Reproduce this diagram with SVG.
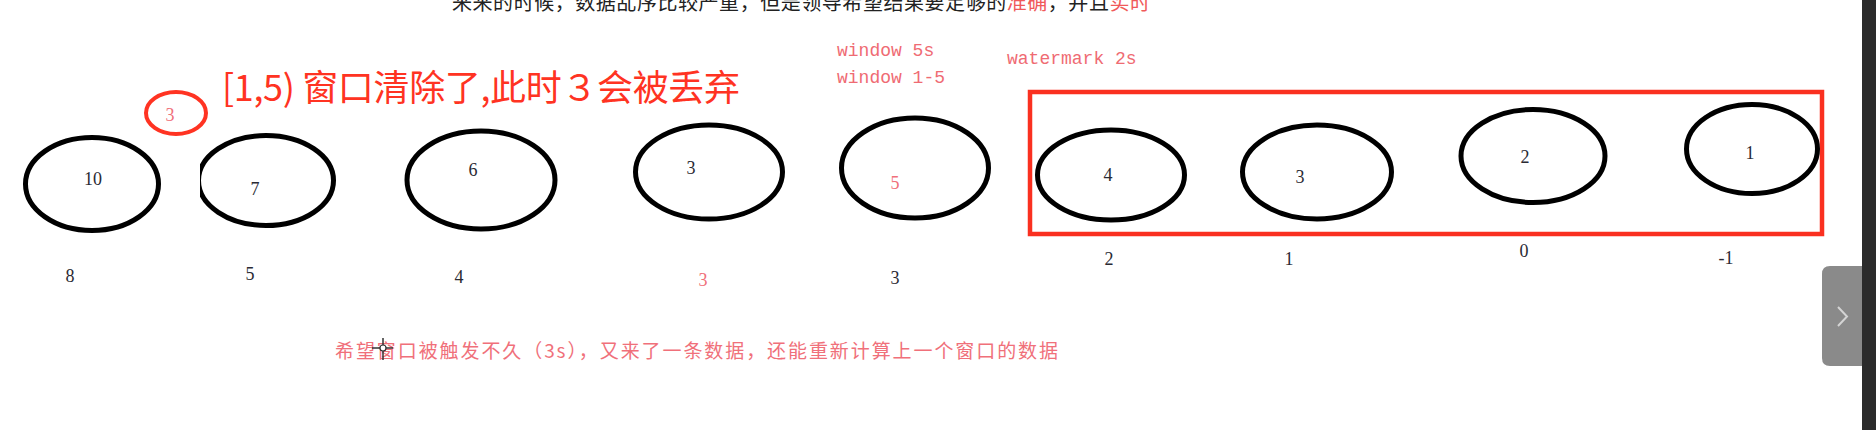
<svg xmlns="http://www.w3.org/2000/svg" width="1876" height="430" viewBox="0 0 1876 430">
<style>
.bg{fill:#ffffff}
.node{fill:none;stroke:#000;stroke-width:5}
.num{font-family:"Liberation Serif","DejaVu Serif",serif;font-size:18px;fill:#2a2a33;text-anchor:middle}
.pinknum{font-family:"Liberation Serif","DejaVu Serif",serif;font-size:18px;fill:#f0707a;text-anchor:middle}
.mono{font-family:"Liberation Mono","DejaVu Sans Mono",monospace;font-size:18px;fill:#ef6b73}
.cjk{font-family:"Noto Sans CJK SC","Noto Sans",sans-serif}
</style>
<defs>
<clipPath id="clip7"><rect x="200" y="100" width="160" height="160"/></clipPath>
</defs>
<rect class="bg" x="0" y="0" width="1876" height="430"/>

<g id="top-text">
<text class="cjk" x="452" y="10" font-size="20" fill="#222" textLength="698">来来的时候，数据乱序比较严重，但是领导希望结果要足够的<tspan fill="#f05a5a">准确</tspan>，并且<tspan fill="#f05a5a">实时</tspan></text>
</g>

<g id="title">
<text class="cjk" x="222" y="101" font-size="36" fill="#ff3322" textLength="518">[1,5) 窗口清除了,此时３会被丢弃</text>
</g>

<g id="late-3">
<ellipse cx="176" cy="113" rx="30" ry="21" fill="none" stroke="#ff3322" stroke-width="4"/>
<text class="pinknum" x="170" y="121">3</text>
</g>

<g id="labels-window">
<text class="mono" x="837" y="56">window 5s</text>
<text class="mono" x="837" y="83">window 1-5</text>
<text class="mono" x="1007" y="64">watermark 2s</text>
</g>

<g id="watermark-box">
<rect x="1030" y="92" width="792" height="142" fill="none" stroke="#fa3020" stroke-width="4.5"/>
</g>

<g id="node-10">
<ellipse class="node" cx="92" cy="184" rx="66.5" ry="46.5"/>
<text class="num" x="93" y="184.5">10</text>
<text class="num" x="70" y="281.5">8</text>
</g>
<g id="node-7">
<ellipse class="node" cx="266" cy="180.5" rx="67.5" ry="45" clip-path="url(#clip7)"/>
<text class="num" x="255" y="195">7</text>
<text class="num" x="250" y="279.5">5</text>
</g>
<g id="node-6">
<ellipse class="node" cx="481" cy="180" rx="74" ry="49"/>
<text class="num" x="473" y="175.5">6</text>
<text class="num" x="459" y="282.5">4</text>
</g>
<g id="node-3a">
<ellipse class="node" cx="709" cy="172" rx="73.5" ry="47"/>
<text class="num" x="691" y="173.5">3</text>
<text class="pinknum" x="703" y="285.5">3</text>
</g>
<g id="node-5">
<ellipse class="node" cx="915" cy="168" rx="73.5" ry="50"/>
<text class="pinknum" x="895" y="188.5">5</text>
<text class="num" x="895" y="283.5">3</text>
</g>
<g id="node-4">
<ellipse class="node" cx="1111" cy="175" rx="73.5" ry="45"/>
<text class="num" x="1108" y="180.5">4</text>
<text class="num" x="1109" y="264.5">2</text>
</g>
<g id="node-3b">
<ellipse class="node" cx="1317" cy="172" rx="74.5" ry="47"/>
<text class="num" x="1300" y="182.5">3</text>
<text class="num" x="1289" y="264.5">1</text>
</g>
<g id="node-2">
<ellipse class="node" cx="1533" cy="156" rx="72" ry="46.5"/>
<text class="num" x="1525" y="162.5">2</text>
<text class="num" x="1524" y="256.5">0</text>
</g>
<g id="node-1">
<ellipse class="node" cx="1752" cy="149" rx="65.5" ry="44.5"/>
<text class="num" x="1750" y="158.5">1</text>
<text class="num" x="1726" y="263.5">-1</text>
</g>

<g id="connectors"></g>

<g id="bottom-text">
<text class="cjk" x="335" y="358" font-size="19" fill="#f0707a" textLength="723">希望窗口被触发不久（3s），又来了一条数据，还能重新计算上一个窗口的数据</text>
</g>

<g id="cursor">
<line x1="383" y1="338" x2="383" y2="360" stroke="#333" stroke-width="1.5"/>
<line x1="372" y1="348" x2="393" y2="348" stroke="#333" stroke-width="1.5"/>
<circle cx="383" cy="348" r="3" fill="#fff" stroke="#333" stroke-width="1.2"/>
</g>

<g id="side-tab">
<rect x="1862" y="0" width="14" height="430" fill="#2b2b2b"/>
<path d="M1862,266 H1830 Q1822,266 1822,274 V358 Q1822,366 1830,366 H1862 Z" fill="#8a8a8a"/>
<polyline points="1838,307 1847,316.5 1838,326" fill="none" stroke="#d4d4d4" stroke-width="2"/>
</g>
</svg>
